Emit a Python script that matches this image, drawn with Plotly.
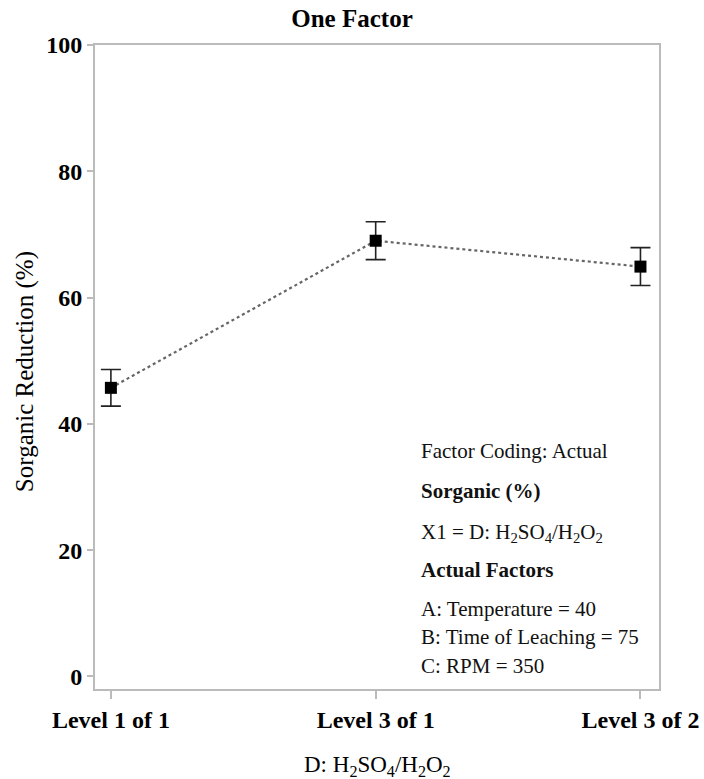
import plotly.graph_objects as go

# Factor levels and predicted response with error bounds
levels = ["Level 1 of 1", "Level 3 of 1", "Level 3 of 2"]
response = [45.7, 69.0, 64.9]
err_plus = [2.9, 3.0, 3.0]
err_minus = [2.9, 3.0, 3.0]

y_ticks = [0, 20, 40, 60, 80, 100]

info_lines = [
    ("Factor Coding: Actual", False),
    ("Sorganic (%)", True),
    ("X1 = D: H<sub>2</sub>SO<sub>4</sub>/H<sub>2</sub>O<sub>2</sub>", False),
    ("Actual Factors", True),
    ("A: Temperature = 40", False),
    ("B: Time of Leaching = 75", False),
    ("C: RPM = 350", False),
]
info_y = [35.7, 29.4, 22.7, 16.8, 10.6, 6.2, 1.7]

serif = "Liberation Serif"
W, H = 704, 779
M = dict(l=95, r=45, t=45, b=90)
plot_w = W - M["l"] - M["r"]
plot_h = H - M["t"] - M["b"]

fig = go.Figure()
fig.add_trace(go.Scatter(
    x=levels, y=response,
    mode="lines+markers",
    line=dict(color="#666666", width=2.2, dash="dot"),
    marker=dict(symbol="square", size=12, color="black"),
    error_y=dict(type="data", symmetric=False, array=err_plus, arrayminus=err_minus,
                 color="#222222", thickness=1.6, width=10),
    showlegend=False,
))

for (txt, bold), yy in zip(info_lines, info_y):
    fig.add_annotation(
        x=1.165, y=yy, xref="x", yref="y",
        text=f"<b>{txt}</b>" if bold else txt,
        showarrow=False, xanchor="left", yanchor="middle",
        font=dict(family=serif, size=21, color="#111111"),
    )

# Axis titles placed in paper space
fig.add_annotation(
    x=0.5, y=-77 / plot_h, xref="paper", yref="paper",
    text="D: H<sub>2</sub>SO<sub>4</sub>/H<sub>2</sub>O<sub>2</sub>",
    showarrow=False, xanchor="center", yanchor="middle",
    font=dict(family=serif, size=23, color="black"),
)
fig.add_annotation(
    x=-70 / plot_w, y=0.492, xref="paper", yref="paper",
    text="Sorganic Reduction (%)", textangle=-90,
    showarrow=False, xanchor="center", yanchor="middle",
    font=dict(family=serif, size=25, color="black"),
)

fig.update_layout(
    width=W, height=H,
    margin=M,
    paper_bgcolor="white", plot_bgcolor="white",
    title=dict(text="<b>One Factor</b>", x=0.5, xanchor="center", y=0.977, yanchor="middle",
               font=dict(family=serif, size=25, color="black")),
    xaxis=dict(
        type="category", range=[-0.06, 2.07], automargin=False,
        tickvals=levels, ticktext=[f"<b>{s}</b>" for s in levels],
        showline=True, linecolor="#bbbbbb", linewidth=2, mirror=True,
        ticks="outside", ticklen=8, tickcolor="#bbbbbb", tickwidth=1.5,
        showgrid=False, zeroline=False,
        tickfont=dict(family=serif, size=24, color="black"),
    ),
    yaxis=dict(
        range=[-2, 100], tickvals=y_ticks, ticktext=[f"<b>{v}</b>" for v in y_ticks],
        automargin=False,
        showline=True, linecolor="#bbbbbb", linewidth=2, mirror=True,
        ticks="outside", ticklen=6, tickcolor="#bbbbbb", tickwidth=1.5,
        showgrid=False, zeroline=False,
        tickfont=dict(family=serif, size=24, color="black"),
    ),
)

fig.write_html("out.html")
